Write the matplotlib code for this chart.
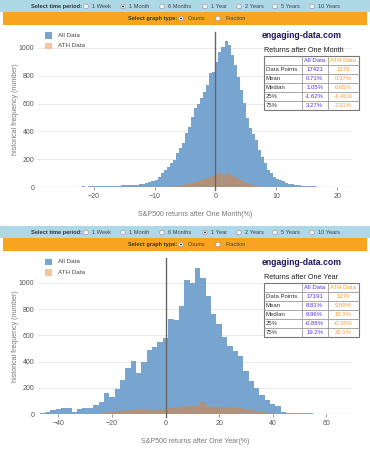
import matplotlib
matplotlib.use('Agg')
import matplotlib.pyplot as plt
from matplotlib.patches import Rectangle, Circle
import numpy as np

plt.rcParams['font.family'] = ['Liberation Sans', 'DejaVu Sans']

# ---------------- data ----------------
periods = ['1 Week', '1 Month', '6 Months', '1 Year', '2 Years', '5 Years', '10 Years']
graph_types = ['Counts', 'Fraction']
legend_labels = ['All Data', 'ATH Data']
table_rows = ['Data Points', 'Mean', 'Median', '25%', '75%']

# one month returns, 0.5% bins
month_start, month_width = -29.0, 0.5
month_all = [1, 0, 1, 0, 1, 2, 1, 0, 2, 1,
             2, 3, 2, 3, 4, 3, 5, 4, 6, 5,
             6, 7, 6, 8, 9, 8, 10, 12, 11, 14,
             12, 14, 16, 19, 22, 27, 33, 40, 50, 70,
             100, 125, 146, 170, 194, 245, 280, 316, 388, 434,
             506, 568, 600, 640, 686, 734, 818, 829, 900, 973,
             1009, 1050, 1022, 950, 878, 793, 698, 602, 494, 422,
             380, 338, 266, 218, 170, 122, 98, 74, 60, 50,
             40, 32, 25, 20, 16, 12, 10, 8, 6, 5,
             4, 3, 3, 2, 2, 1, 1, 1, 1, 0,
             1, 0, 0]
month_ath_start = -9.0
month_ath = [1, 2, 3, 4, 6, 8, 12, 16, 20, 26,
             32, 38, 44, 50, 56, 62, 70, 76, 90, 98,
             88, 100, 94, 82, 72, 60, 48, 38, 26, 18,
             12, 8, 5, 3, 2, 1]

# one year returns, 2% bins
year_start, year_width = -47.0, 2.0
year_all = [8, 15, 33, 38, 45, 50, 15, 38, 45, 50,
            70, 91, 164, 134, 192, 261, 349, 405, 311, 395,
            489, 509, 547, 582, 724, 716, 825, 1020, 995, 1114,
            1033, 900, 760, 690, 590, 520, 480, 440, 330, 250,
            200, 150, 110, 80, 60, 15, 12, 10, 10, 8,
            8, 6, 5, 5, 4, 3, 3, 2]
year_ath_start = -29.0
year_ath = [2, 5, 10, 15, 20, 22, 28, 30, 42, 40,
            38, 36, 35, 38, 32, 45, 48, 58, 62, 60,
            68, 95, 62, 55, 58, 45, 52, 48, 45, 35,
            30, 25, 20, 12, 8, 5, 3]

month_stats_all = ['17421', '0.71%', '1.05%', '-1.62%', '3.27%']
month_stats_ath = ['1275', '0.37%', '0.65%', '-1.41%', '2.31%']
year_stats_all = ['17191', '8.81%', '9.96%', '-0.88%', '19.2%']
year_stats_ath = ['1270', '9.89%', '10.3%', '-0.36%', '20.1%']

# ---------------- style ----------------
W, H = 370, 450
BLUE = '#78a4d0'
ORANGE = '#e8822a'
ORANGE_LEG = '#f6c39a'
VIOLET = '#5533ee'
ORANGE_TXT = '#ff9a2e'
GRAY = '#666666'

fig = plt.figure(figsize=(3.7, 4.5), dpi=100)


def box(l, t, r, b):
    return [l / W, 1 - b / H, (r - l) / W, (b - t) / H]


def draw_hist(ax, start, width, counts, ath_start, ath, xlim, ylim, xticks, xlabel):
    e_all = start + width * np.arange(len(counts))
    e_ath = ath_start + width * np.arange(len(ath))
    ax.bar(e_all, counts, width=width, align='edge', color=BLUE, linewidth=0, zorder=2)
    ax.bar(e_ath, ath, width=width, align='edge', color=ORANGE, alpha=0.5, linewidth=0, zorder=3)
    ax.set_xlim(*xlim)
    ax.set_ylim(*ylim)
    ax.set_yticks([0, 200, 400, 600, 800, 1000])
    ax.set_xticks(xticks)
    ax.grid(axis='y', color='#e9e9e9', lw=0.7, zorder=0)
    ax.axhline(0, color='#9aa0a8', lw=0.8, zorder=4)
    ax.axvline(0, ymin=-0.02, ymax=1.0, color=GRAY, lw=1.0, zorder=5, clip_on=False)
    for s in ax.spines.values():
        s.set_visible(False)
    ax.tick_params(axis='y', length=0, labelsize=5, labelcolor='#555', pad=3)
    ax.tick_params(axis='x', length=2, width=0.6, color='#888', labelsize=5,
                   labelcolor='#555', pad=2)
    ax.set_ylabel('historical frequency (number)', fontsize=5, color='#777', labelpad=0)
    ax.set_xlabel(xlabel, fontsize=5, color='#777', labelpad=8)


ax1 = fig.add_axes(box(38.3, 32, 351.7, 187))
draw_hist(ax1, month_start, month_width, month_all, month_ath_start, month_ath,
          (-29.1, 22.4), (0, 1115), [-20, -10, 0, 10, 20],
          'S&P500 returns after One Month(%)')

ax2 = fig.add_axes(box(38.3, 258, 351.7, 414.3))
draw_hist(ax2, year_start, year_width, year_all, year_ath_start, year_ath,
          (-47.5, 69.5), (0, 1188), [-40, -20, 0, 20, 40, 60],
          'S&P500 returns after One Year(%)')

# overlay in pixel coordinates for the controls, legend and tables
ov = fig.add_axes([0, 0, 1, 1], zorder=10)
ov.set_xlim(0, W)
ov.set_ylim(H, 0)
ov.axis('off')

period_x = [86, 123, 162, 205, 239, 275, 312]
type_x = [181, 218]


def radio(x, y, on):
    ov.add_patch(Circle((x, y), 2.3, facecolor='white', edgecolor='#999', lw=0.5))
    if on:
        ov.add_patch(Circle((x, y), 1.0, facecolor='#444', edgecolor='none'))


def controls(y0, selected):
    ov.add_patch(Rectangle((0, y0), W, 12, facecolor='#add8e6', edgecolor='none'))
    ov.add_patch(Rectangle((3, y0 + 12), 364, 13, facecolor='#f7a51f', edgecolor='none'))
    cy = y0 + 6.5
    ov.text(82, cy, 'Select time period:', fontsize=4.1, fontweight='bold',
            color='#333', ha='right', va='center')
    for x, p in zip(period_x, periods):
        radio(x, cy, p == selected)
        ov.text(x + 6, cy, p, fontsize=4.1, color='#444', va='center')
    cy2 = y0 + 18.5
    ov.text(177, cy2, 'Select graph type:', fontsize=4.1, fontweight='bold',
            color='#333', ha='right', va='center')
    for x, g in zip(type_x, graph_types):
        radio(x, cy2, g == 'Counts')
        ov.text(x + 7, cy2, g, fontsize=4.1, color='#444', va='center')


def legend(y0):
    ov.add_patch(Rectangle((45, y0 - 3), 6.5, 6.5, facecolor=BLUE, edgecolor='none'))
    ov.text(58, y0 + 0.3, legend_labels[0], fontsize=4.5, color='#444', va='center')
    ov.add_patch(Rectangle((45, y0 + 7.5), 6.5, 6.5, facecolor=ORANGE_LEG, edgecolor='none'))
    ov.text(58, y0 + 10.8, legend_labels[1], fontsize=4.5, color='#444', va='center')


def table(ytitle, ytop, title, col_all, col_ath):
    ov.text(262, ytitle - 15, 'engaging-data.com', fontsize=6.2, fontweight='bold',
            color='#1b1464', va='center')
    ov.text(264, ytitle, title, fontsize=5.2, color='#222', va='center')
    xs = [264, 301.7, 327.7, 359.3]
    rh = 9
    ov.add_patch(Rectangle((xs[0], ytop), xs[-1] - xs[0], rh * 6,
                           facecolor='white', edgecolor='#777', lw=0.8))
    for x in xs[1:-1]:
        ov.plot([x, x], [ytop, ytop + 6 * rh], color='#999', lw=0.6)
    for i in range(1, 6):
        ov.plot([xs[0], xs[-1]], [ytop + i * rh] * 2, color='#999', lw=0.6)
    cx1 = (xs[1] + xs[2]) / 2
    cx2 = (xs[2] + xs[3]) / 2
    ov.text(cx1, ytop + rh / 2, legend_labels[0], fontsize=4.3, color=VIOLET,
            ha='center', va='center')
    ov.text(cx2, ytop + rh / 2, legend_labels[1], fontsize=4.3, color=ORANGE_TXT,
            ha='center', va='center')
    for i, (lab, a, b) in enumerate(zip(table_rows, col_all, col_ath)):
        cy = ytop + rh * (i + 1.5)
        ov.text(xs[0] + 2, cy, lab, fontsize=4.3, color='#333', va='center')
        ov.text(cx1, cy, a, fontsize=4.3, color=VIOLET, ha='center', va='center')
        ov.text(cx2, cy, b, fontsize=4.3, color=ORANGE_TXT, ha='center', va='center')


controls(0, '1 Month')
controls(226, '1 Year')
legend(35)
legend(261.5)
table(51, 56, 'Returns after One Month', month_stats_all, month_stats_ath)
table(277.7, 283.3, 'Returns after One Year', year_stats_all, year_stats_ath)

fig.savefig('out.png', dpi=100)
